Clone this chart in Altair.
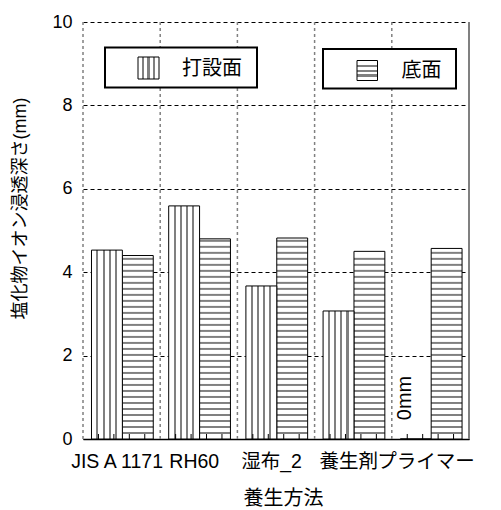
import json
import altair as alt
import pandas as pd

# ---- data ----
categories = ["JIS A 1171", "RH60", "湿布_2", "養生剤", "プライマー"]
series = ["打設面", "底面"]
vals_top = [4.53, 5.59, 3.67, 3.07, 0.0]      # 打設面
vals_bottom = [4.40, 4.80, 4.82, 4.50, 4.57]  # 底面
y_ticks = [0, 2, 4, 6, 8, 10]
x_title = "養生方法"
y_title = "塩化物イオン浸透深さ(mm)"
zero_note = "0mm"

# ---- style ----
W, H = 386, 417
FONT = "Liberation Sans, Arial, Noto Sans CJK JP"
GRAY = "#808080"
GAP, BW = 0.11, 0.40          # bar placement inside a category (category units)
HSTEP = 0.144                 # horizontal hatch spacing (y units)
LABEL_SHIFT = 0.065           # labels sit slightly left of the category centre

rows = []
for i, c in enumerate(categories):
    for j, (s, v) in enumerate(zip(series, [vals_top[i], vals_bottom[i]])):
        x0 = i + GAP + j * BW
        rows.append(dict(cat=c, series=s, value=v, x0=x0, x1=x0 + BW,
                         xm=x0 + BW / 2, zero=0.0))
bars = pd.DataFrame(rows)
top_bars = bars[bars.series == series[0]]
bot_bars = bars[bars.series == series[1]]

hatch = []
for _, r in bot_bars.iterrows():
    k = 1
    while k * HSTEP < r["value"] - 0.04:
        hatch.append(dict(x0=r["x0"], x1=r["x1"], y=k * HSTEP))
        k += 1
hatch = pd.DataFrame(hatch)

inner_b = pd.DataFrame({"b": list(range(len(categories)))})
outer_b = pd.DataFrame({"b": [len(categories)]})
minor = pd.DataFrame({"m": [i + k / 5 for i in range(len(categories)) for k in range(1, 5)],
                      "lo": 0.0, "hi": 0.12})
zero_df = top_bars[top_bars.value == 0]
one = pd.DataFrame({"a": [0]})


def stripes(centers, hw, horizontal=False):
    stops = [{"color": "white", "offset": 0}]
    for c in centers:
        stops += [{"color": "white", "offset": c - hw}, {"color": GRAY, "offset": c - hw},
                  {"color": GRAY, "offset": c + hw}, {"color": "white", "offset": c + hw}]
    stops.append({"color": "white", "offset": 1})
    g = {"gradient": "linear", "stops": stops}
    if horizontal:
        g.update(x1=0, x2=0, y1=0, y2=1)
    else:
        g.update(x1=0, x2=1, y1=0, y2=0)
    return g


vgrad = stripes([0.19, 0.39, 0.59, 0.79], 0.033)
sw_v = stripes([0.25, 0.5, 0.75], 0.05)
sw_h = stripes([0.25, 0.5, 0.75], 0.05, horizontal=True)

xscale = alt.Scale(domain=[0, len(categories)], nice=False, zero=False)
yscale = alt.Scale(domain=[0, 10], nice=False)
label_expr = json.dumps(categories, ensure_ascii=False) + "[floor(datum.value)]"
xaxis = alt.Axis(values=[i + 0.5 - LABEL_SHIFT for i in range(len(categories))],
                 labelExpr=label_expr,
                 grid=False, ticks=False, domain=True, domainColor="black", domainWidth=1.5,
                 labelFont=FONT, labelFontSize=19.5, labelColor="black", labelPadding=13,
                 labelOverlap=False, labelFlush=False,
                 title=x_title, titleFont=FONT, titleFontSize=20, titleFontWeight="normal",
                 titleColor="black", titleX=200, titleY=59, titleBaseline="middle",
                 titleAlign="center")
yaxis = alt.Axis(values=y_ticks, grid=True, gridColor="black", gridDash=[4, 3], gridWidth=1,
                 ticks=False, domain=False, labelFont=FONT, labelFontSize=18,
                 labelColor="black", labelPadding=11,
                 title=y_title, titleFont=FONT, titleFontSize=18, titleFontWeight="normal",
                 titleColor="black", titleAngle=270, titleX=-63, titleY=186,
                 titleBaseline="middle", titleAlign="center")


def X(f):
    return alt.X(f"{f}:Q", scale=xscale, axis=xaxis)


def Y(f):
    return alt.Y(f"{f}:Q", scale=yscale, axis=yaxis)


vgrid = alt.Chart(inner_b).mark_rule(color=GRAY, strokeDash=[3, 3], strokeWidth=1.5).encode(
    x=X("b"), y=alt.value(0), y2=alt.value(H))
rgrid = alt.Chart(outer_b).mark_rule(color=GRAY, strokeWidth=2).encode(
    x=X("b"), y=alt.value(0), y2=alt.value(H))

bot_fill = alt.Chart(bot_bars).mark_rect(fill="white").encode(
    x=X("x0"), x2="x1", y=Y("zero"), y2="value")
hatch_l = alt.Chart(hatch).mark_rule(color=GRAY, strokeWidth=2).encode(
    x=X("x0"), x2="x1", y=Y("y"))
bot_out = alt.Chart(bot_bars).mark_rect(fillOpacity=0, stroke="black", strokeWidth=1).encode(
    x=X("x0"), x2="x1", y=Y("zero"), y2="value")
top_rect = alt.Chart(top_bars).mark_rect(fill=vgrad, stroke="black", strokeWidth=1).encode(
    x=X("x0"), x2="x1", y=Y("zero"), y2="value")
minor_t = alt.Chart(minor).mark_rule(color="black", strokeWidth=1).encode(
    x=X("m"), y=Y("lo"), y2="hi")
zero_t = alt.Chart(zero_df).mark_text(text=zero_note, angle=270, font=FONT, fontSize=20,
                                      align="center", baseline="middle", dy=-11,
                                      color="black").encode(x=X("xm"), y=alt.value(376))

# ---- legend boxes (drawn) ----
def box(x0, x1, y0, y1):
    return alt.Chart(one).mark_rect(fill="white", stroke="black", strokeWidth=2).encode(
        x=alt.value(x0), x2=alt.value(x1), y=alt.value(y0), y2=alt.value(y1))


def swatch(x0, x1, y0, y1, g):
    return alt.Chart(one).mark_rect(fill=g, stroke="black", strokeWidth=1).encode(
        x=alt.value(x0), x2=alt.value(x1), y=alt.value(y0), y2=alt.value(y1))


def label(txt, x, y):
    return alt.Chart(one).mark_text(text=txt, font=FONT, fontSize=20, align="left",
                                    baseline="middle", color="black").encode(
        x=alt.value(x), y=alt.value(y))


legend = [
    box(22, 174, 25.5, 65.5), swatch(55, 76, 35, 57, sw_v), label(series[0], 99, 47),
    box(240, 373, 27, 66.5), swatch(274, 294.5, 38.5, 58.5, sw_h), label(series[1], 318.5, 49),
]

chart = alt.layer(vgrid, rgrid, bot_fill, hatch_l, bot_out, top_rect, minor_t, zero_t,
                  *legend).properties(
    width=W, height=H,
    autosize=alt.AutoSizeParams(type="none"),
    padding={"left": 75, "top": 14, "right": 24, "bottom": 72},
    background="white",
).configure_view(stroke=None)

chart.save("out.html", embed_options={"renderer": "svg", "actions": False})
